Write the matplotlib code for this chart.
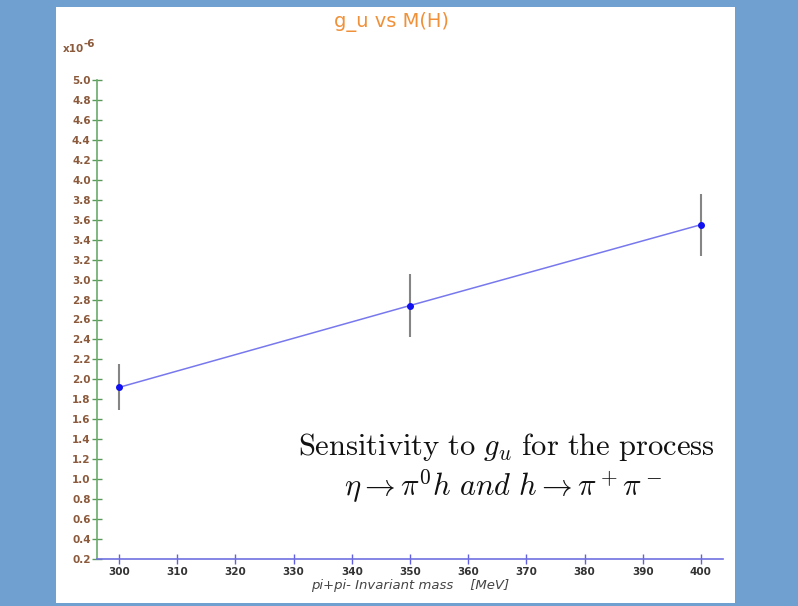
import numpy as np
from matplotlib import pyplot as plt
from matplotlib.patches import Rectangle

# Higgs-like scalar mass points and g_u sensitivity (units of 1e-6)
mass = [300, 350, 400]
g_u = [1.92, 2.74, 3.55]
g_u_err = [0.23, 0.32, 0.31]

x_ticks = np.arange(300, 401, 10)
y_ticks = np.round(np.arange(0.2, 5.01, 0.2), 1)

plt.rcParams['mathtext.fontset'] = 'cm'

fig = plt.figure(figsize=(7.98, 6.06), dpi=100)
fig.patch.set_facecolor('#70a0d0')

# white canvas panel inside the blue frame
panel = Rectangle((56 / 798, 1 - 603 / 606), 679 / 798, 596 / 606,
                  transform=fig.transFigure, facecolor='white',
                  edgecolor='none', zorder=-10)
fig.add_artist(panel)

ax = fig.add_axes([97 / 798, 1 - 559 / 606, 626 / 798, 479 / 606])
ax.set_facecolor('none')
ax.set_zorder(5)

ax.errorbar(mass, g_u, yerr=g_u_err, fmt='none', ecolor='#858585',
            elinewidth=1.5, capsize=0, zorder=2)
ax.plot(mass, g_u, color='#7878ee', lw=1.1, zorder=3)
ax.plot(mass, g_u, 'o', color='#1010f0', ms=4, zorder=4)

ax.set_xlim(296.2, 403.8)
ax.set_ylim(0.2, 5.0)

for s in ['top', 'right']:
    ax.spines[s].set_visible(False)
ax.spines['left'].set_color('#6aaa6a')
ax.spines['left'].set_linewidth(1.2)
ax.spines['bottom'].set_color('#7070e0')
ax.spines['bottom'].set_linewidth(1.2)

ax.set_xticks(x_ticks)
ax.set_xticklabels([str(v) for v in x_ticks], fontsize=7.5,
                   fontweight='bold', color='#333333')
ax.set_yticks(y_ticks)
ax.set_yticklabels(['%.1f' % v for v in y_ticks], fontsize=7.5,
                   fontweight='bold', color='#8b5a3c')
ax.tick_params(axis='x', direction='inout', length=7, width=1,
               color='#6060e0', pad=2)
ax.tick_params(axis='y', direction='inout', length=7, width=1,
               color='#5a9a5a', pad=1)

ax.set_xlabel('pi+pi- Invariant mass    [MeV]', fontsize=9.5, style='italic',
              color='#444444', labelpad=2)

fig.text(392 / 798, 1 - 22 / 606, 'g_u vs M(H)', ha='center', va='center',
         fontsize=14, color='#f0913a')
# axis multiplier, drawn as base plus raised exponent
fig.text(63 / 798, 1 - 49 / 606, 'x10', ha='left', va='center',
         fontsize=7.5, fontweight='bold', color='#8b5a3c')
fig.text(83 / 798, 1 - 44 / 606, '-6', ha='left', va='center',
         fontsize=7.5, fontweight='bold', color='#8b5a3c')

ax.text(506 / 798, 1 - 447 / 606,
        r'$\mathrm{Sensitivity\ to\ }g_u\mathrm{\ for\ the\ process}$',
        transform=fig.transFigure, ha='center', va='center', fontsize=22,
        color='#111111')
ax.text(503 / 798, 1 - 486 / 606,
        r'$\eta\rightarrow\pi^0h\ and\ h\rightarrow\pi^+\pi^-$',
        transform=fig.transFigure, ha='center', va='center', fontsize=22,
        color='#111111')

fig.savefig('out.png', dpi=100, facecolor=fig.get_facecolor())
